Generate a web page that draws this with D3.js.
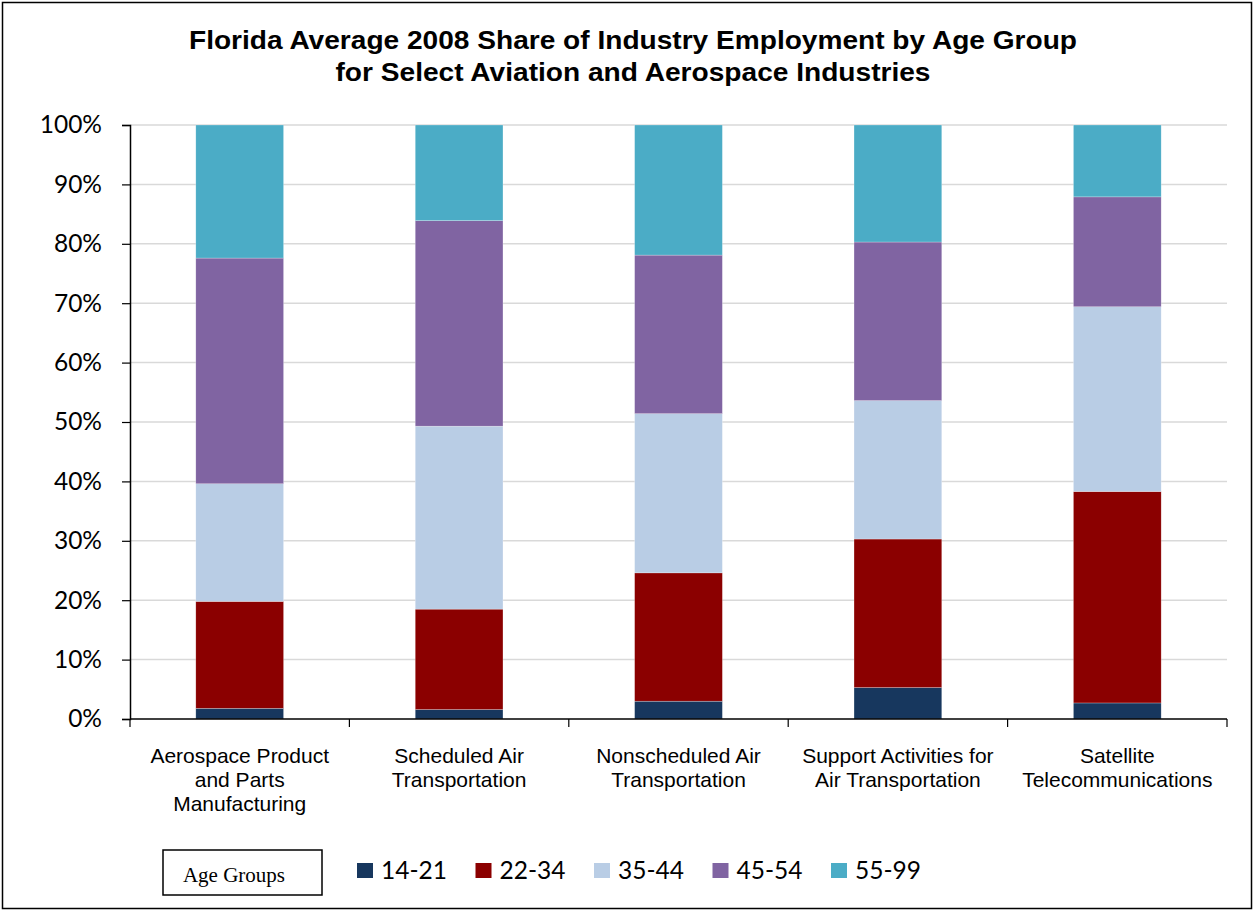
<!DOCTYPE html>
<html><head><meta charset="utf-8">
<script src="https://cdn.jsdelivr.net/npm/d3@7"></script>
<style>body{margin:0;background:#fff}svg{display:block}</style>
</head><body>
<svg id="chart" width="1255" height="912"></svg>
<script>
const categories = [
  ["Aerospace Product", "and Parts", "Manufacturing"],
  ["Scheduled Air", "Transportation"],
  ["Nonscheduled Air", "Transportation"],
  ["Support Activities for", "Air Transportation"],
  ["Satellite", "Telecommunications"]
];
const seriesNames = ["14-21", "22-34", "35-44", "45-54", "55-99"];
const s1421 = [1.8, 1.6, 3.0, 5.3, 2.7];
const s2234 = [18.0, 16.9, 21.6, 25.0, 35.6];
const s3544 = [19.8, 30.8, 26.8, 23.3, 31.1];
const s4554 = [38.0, 34.6, 26.7, 26.7, 18.5];
const s5599 = [22.4, 16.1, 21.9, 19.7, 12.1];
const colors = ["#17375e", "#8b0000", "#b9cde5", "#8064a2", "#4bacc6"];
const yTicks = [0, 10, 20, 30, 40, 50, 60, 70, 80, 90, 100];
const titleLines = ["Florida Average 2008 Share of Industry Employment by Age Group",
                    "for Select Aviation and Aerospace Industries"];
const legendTitle = "Age Groups";

const seriesData = [s1421, s2234, s3544, s4554, s5599];
const rows = categories.map((c, i) => {
  const r = {idx: i};
  seriesNames.forEach((s, j) => r[s] = seriesData[j][i]);
  return r;
});

const svg = d3.select("#chart");
const pLeft = 130, pRight = 1227, pTop = 125, pBottom = 719;

// outer frame
svg.append("rect").attr("x", 2.5).attr("y", 2.5).attr("width", 1249).attr("height", 906)
  .attr("fill", "none").attr("stroke", "#000").attr("stroke-width", 1.5);

// title
const titleWidths = [888, 595];
svg.append("g").selectAll("text").data(titleLines).join("text")
  .attr("x", 633).attr("y", (d, i) => 49 + i * 31.5)
  .attr("text-anchor", "middle")
  .attr("font-family", "Liberation Sans, Arial, sans-serif")
  .attr("font-weight", "bold").attr("font-size", 26).attr("fill", "#000")
  .attr("textLength", (d, i) => titleWidths[i])
  .attr("lengthAdjust", "spacingAndGlyphs")
  .text(d => d);

const x = d3.scaleBand().domain(d3.range(categories.length)).range([pLeft, pRight]).paddingInner(0.6).paddingOuter(0.3);
const xOuter = d3.scaleBand().domain(d3.range(categories.length)).range([pLeft, pRight]);
const y = d3.scaleLinear().domain([0, 100]).range([pBottom, pTop]);

// gridlines
svg.append("g").selectAll("line").data(yTicks.filter(t => t > 0)).join("line")
  .attr("x1", pLeft).attr("x2", pRight)
  .attr("y1", d => y(d)).attr("y2", d => y(d))
  .attr("stroke", "#d9d9d9").attr("stroke-width", 1.5);

// bars
const stack = d3.stack().keys(seriesNames)(rows);
svg.append("g").selectAll("g").data(stack).join("g")
  .attr("fill", (d, i) => colors[i])
  .selectAll("rect").data(d => d).join("rect")
  .attr("x", d => x(d.data.idx))
  .attr("width", x.bandwidth())
  .attr("y", d => y(d[1]))
  .attr("height", d => y(d[0]) - y(d[1]))
  .attr("stroke", "rgba(255,255,255,0.5)").attr("stroke-width", 0.5);

// y axis
const yAxis = d3.axisLeft(y).tickValues(yTicks).tickFormat(d => d + "%").tickSize(8).tickPadding(20);
const gy = svg.append("g").attr("transform", `translate(${pLeft},0)`).call(yAxis);
gy.select(".domain").attr("stroke", "#000").attr("stroke-width", 1.5);
gy.selectAll(".tick line").attr("stroke", "#000").attr("stroke-width", 1.2);
gy.selectAll(".tick text").attr("font-family", "Lato, 'Open Sans', sans-serif")
  .attr("font-size", 24.5).attr("fill", "#000");

// x axis
svg.append("line").attr("x1", pLeft).attr("x2", pRight).attr("y1", pBottom).attr("y2", pBottom)
  .attr("stroke", "#000").attr("stroke-width", 1.5);
const boundaries = d3.range(categories.length + 1).map(i => i < categories.length ? xOuter(i) : pRight);
svg.append("g").selectAll("line").data(boundaries).join("line")
  .attr("x1", d => d).attr("x2", d => d).attr("y1", pBottom).attr("y2", pBottom + 8)
  .attr("stroke", "#000").attr("stroke-width", 1.2);

// category labels
const cl = svg.append("g").selectAll("text").data(categories).join("text")
  .attr("x", (d, i) => xOuter(i) + xOuter.bandwidth() / 2)
  .attr("y", 763)
  .attr("text-anchor", "middle")
  .attr("font-family", "Liberation Sans, Arial, sans-serif")
  .attr("font-size", 21).attr("fill", "#000");
cl.selectAll("tspan").data(d => d).join("tspan")
  .attr("x", function() { return d3.select(this.parentNode).attr("x"); })
  .attr("dy", (d, i) => i === 0 ? 0 : 24)
  .text(d => d);

// legend title box
svg.append("rect").attr("x", 163).attr("y", 850).attr("width", 159).attr("height", 45)
  .attr("fill", "#fff").attr("stroke", "#000").attr("stroke-width", 1.5);
svg.append("text").attr("x", 234).attr("y", 882).attr("text-anchor", "middle")
  .attr("font-family", "Liberation Serif, 'Times New Roman', serif")
  .attr("font-size", 21).attr("fill", "#000").text(legendTitle);

// legend items
const lg = svg.append("g").selectAll("g").data(seriesNames).join("g")
  .attr("transform", (d, i) => `translate(${357 + i * 118.5},0)`);
lg.append("rect").attr("x", 0).attr("y", 863).attr("width", 16).attr("height", 15)
  .attr("fill", (d, i) => colors[i]);
lg.append("text").attr("x", 24).attr("y", 879)
  .attr("font-family", "Lato, 'Open Sans', sans-serif")
  .attr("font-size", 24.5).attr("fill", "#000").text(d => d);
</script>
</body></html>
